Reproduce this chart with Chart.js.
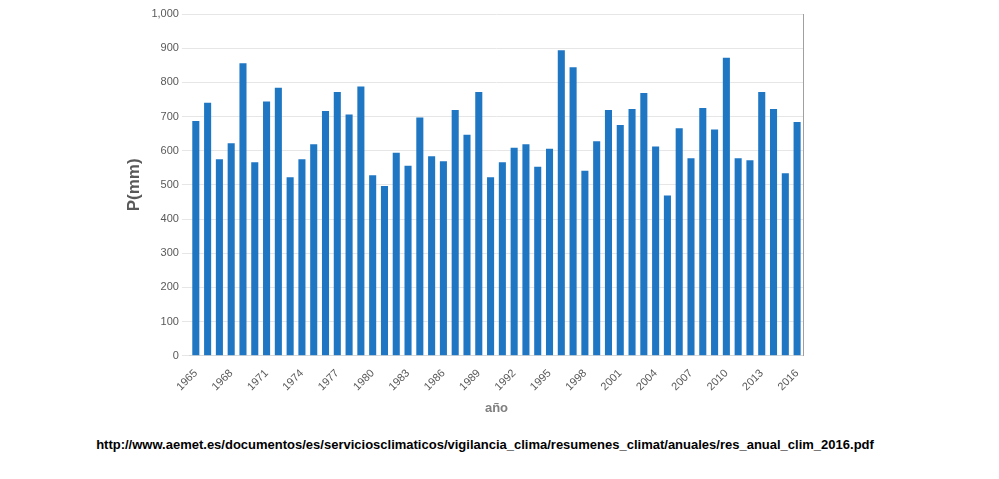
<!DOCTYPE html>
<html><head><meta charset="utf-8">
<script src="https://cdn.jsdelivr.net/npm/chart.js@4/dist/chart.umd.min.js"></script>
<style>
body{margin:0;background:#fff;width:999px;height:479px;overflow:hidden;font-family:"Liberation Sans",Arial,sans-serif}
#wrap{position:absolute;left:0;top:0;width:999px;height:420px}
#src{position:absolute;left:0;width:970px;top:437px;text-align:center;font-weight:bold;font-size:13px;color:#000}
</style></head><body>
<div id="wrap"><canvas id="c"></canvas></div>
<div id="src">http://www.aemet.es/documentos/es/serviciosclimaticos/vigilancia_clima/resumenes_climat/anuales/res_anual_clim_2016.pdf</div>
<script>
const years = [];
for (let y = 1965; y <= 2016; y++) years.push(String(y));
const precip = [687,740,575,622,856,566,744,784,522,575,619,716,772,706,788,528,497,594,556,697,584,569,719,647,772,522,566,609,619,553,606,894,844,541,628,719,675,722,769,612,469,666,578,725,662,872,578,572,772,722,534,684];
const yTicks = [0,100,200,300,400,500,600,700,800,900,1000];

new Chart(document.getElementById('c'), {
  type: 'bar',
  data: { labels: years, datasets: [{ data: precip, backgroundColor: '#1f77c4', categoryPercentage: 1, barPercentage: 0.6 }] },
  options: {
    responsive: true, maintainAspectRatio: false, animation: false,
    layout: { padding: { left: 120, right: 188, top: 14, bottom: 0 } },
    plugins: { legend: { display: false }, tooltip: { enabled: false } },
    scales: {
      x: {
        grid: { display: false }, border: { color: '#d9d9d9' },
        ticks: { autoSkip: false, maxRotation: 45, minRotation: 45, color: '#595959', font: { size: 11 },
          callback: (v, i) => i % 3 === 0 ? years[i] : '' },
        title: { display: true, text: 'año', color: '#7f7f7f', font: { size: 13, weight: 'bold' } }
      },
      y: {
        min: 0, max: 1000, afterBuildTicks: a => { a.ticks = yTicks.map(v => ({ value: v })); },
        grid: { color: '#e6e6e6' }, border: { display: false },
        ticks: { color: '#595959', font: { size: 11 } },
        title: { display: true, text: 'P(mm)', color: '#595959', font: { size: 17, weight: 'bold' } }
      },
      y2: { position: 'right', min: 0, max: 1000, ticks: { display: false }, grid: { drawOnChartArea: false, display: false }, border: { color: '#a0a0a0' } }
    }
  }
});
</script>
</body></html>
